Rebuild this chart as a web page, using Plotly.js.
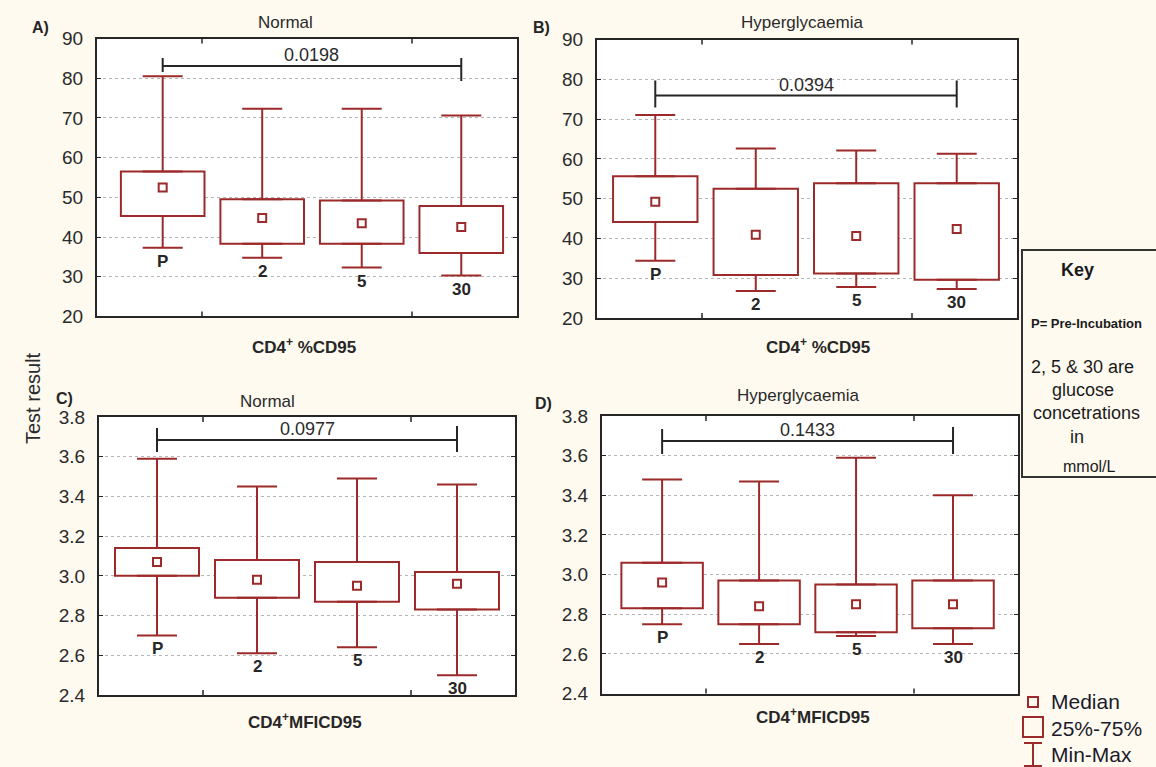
<!DOCTYPE html>
<html><head><meta charset="utf-8">
<script src="https://cdn.plot.ly/plotly-3.0.1.min.js"></script>
<style>html,body{margin:0;padding:0;background:#fffaf0}</style>
</head><body><div id="chart" style="width:1156px;height:767px"></div>
<script>
const categories = ['P', '2', '5', '30'];

// Panel A: Normal, CD4+ %CD95
const aMin    = [37.3, 34.8, 32.3, 30.3];
const aQ1     = [45.3, 38.3, 38.3, 36.0];
const aMedian = [52.5, 44.8, 43.5, 42.5];
const aQ3     = [56.5, 49.5, 49.2, 47.8];
const aMax    = [80.5, 72.3, 72.3, 70.6];

// Panel B: Hyperglycaemia, CD4+ %CD95
const bMin    = [34.4, 26.8, 27.8, 27.3];
const bQ1     = [44.1, 30.8, 31.2, 29.6];
const bMedian = [49.2, 40.9, 40.6, 42.4];
const bQ3     = [55.6, 52.5, 53.9, 53.9];
const bMax    = [71.0, 62.6, 62.1, 61.3];

// Panel C: Normal, CD4+ MFI CD95
const cMin    = [2.70, 2.61, 2.64, 2.50];
const cQ1     = [3.00, 2.89, 2.87, 2.83];
const cMedian = [3.07, 2.98, 2.95, 2.96];
const cQ3     = [3.14, 3.08, 3.07, 3.02];
const cMax    = [3.59, 3.45, 3.49, 3.46];

// Panel D: Hyperglycaemia, CD4+ MFI CD95
const dMin    = [2.75, 2.65, 2.69, 2.65];
const dQ1     = [2.83, 2.75, 2.71, 2.73];
const dMedian = [2.96, 2.84, 2.85, 2.85];
const dQ3     = [3.06, 2.97, 2.95, 2.97];
const dMax    = [3.48, 3.47, 3.59, 3.40];

const pValues = ['0.0198', '0.0394', '0.0977', '0.1433'];
const bracketLevels = [83.1, 75.9, 3.684, 3.674];
const panelTitles = ['Normal', 'Hyperglycaemia', 'Normal', 'Hyperglycaemia'];
const panelLetters = ['A)', 'B)', 'C)', 'D)'];
const xTitles = ['CD4<sup>+</sup> %CD95', 'CD4<sup>+</sup> %CD95', 'CD4<sup>+</sup>MFICD95', 'CD4<sup>+</sup>MFICD95'];

const W = 1156, H = 767;
const X = p => p / W, Y = p => 1 - p / H;
const RED = '#9c2a2a';
const INK = '#262626';

const panels = [
  {d:[aMin,aQ1,aMedian,aQ3,aMax], yr:[20,90], dt:10, xr:[-0.66,3.56], xd:[97,517], yd:[38.6,316.4], tk:[[8,-6],[8,-15]],
   title:[285,23], letter:[40,28], xt:[304,346]},
  {d:[bMin,bQ1,bMedian,bQ3,bMax], yr:[20,90], dt:10, xr:[-0.58,3.60], xd:[597,1017], yd:[39.5,318], tk:[[15,-12],[15,-12]],
   title:[802,23], letter:[541,28], xt:[818,346]},
  {d:[cMin,cQ1,cMedian,cQ3,cMax], yr:[2.4,3.8], dt:0.2, xr:[-0.58,3.58], xd:[99,515], yd:[417,695], tk:[[12,-12],[14,-12]],
   title:[267,402], letter:[64,398], xt:[305,721]},
  {d:[dMin,dQ1,dMedian,dQ3,dMax], yr:[2.4,3.8], dt:0.2, xr:[-0.62,3.67], xd:[602,1018], yd:[416,693.6], tk:[[12,-13],[14,-13]],
   title:[798,395], letter:[543,403], xt:[813,716]}
];

const traces = [];
const layout = {
  width: W, height: H,
  margin: {l:0, r:0, t:0, b:0},
  paper_bgcolor: '#fffaf0',
  plot_bgcolor: '#ffffff',
  showlegend: false,
  bargap: 0.16,
  font: {family: 'Liberation Sans, Arial, sans-serif', color: INK},
  shapes: [],
  annotations: []
};

panels.forEach((p, k) => {
  const n = k === 0 ? '' : String(k + 1);
  const xa = 'x' + n, ya = 'y' + n;
  const [mn, q1, md, q3, mx] = p.d;
  traces.push({
    type: 'bar', x: categories, y: q3.map((v, i) => v - q1[i]), base: q1,
    width: 0.84, xaxis: xa, yaxis: ya, hoverinfo: 'skip',
    marker: {color: '#ffffff', line: {color: RED, width: 2}}
  });
  traces.push({
    type: 'scatter', mode: 'markers', x: categories, y: q3, xaxis: xa, yaxis: ya, hoverinfo: 'skip',
    marker: {color: 'rgba(0,0,0,0)', size: 2},
    error_y: {type: 'data', symmetric: false, array: mx.map((v, i) => v - q3[i]), arrayminus: q3.map(() => 0),
              color: RED, thickness: 2, width: 20}
  });
  traces.push({
    type: 'scatter', mode: 'markers', x: categories, y: q1, xaxis: xa, yaxis: ya, hoverinfo: 'skip',
    marker: {color: 'rgba(0,0,0,0)', size: 2},
    error_y: {type: 'data', symmetric: false, array: q1.map(() => 0), arrayminus: q1.map((v, i) => v - mn[i]),
              color: RED, thickness: 2, width: 20}
  });
  traces.push({
    type: 'scatter', mode: 'markers', x: categories, y: md, xaxis: xa, yaxis: ya, hoverinfo: 'skip',
    marker: {symbol: 'square-open', size: 8, color: RED, line: {color: RED, width: 2}}
  });

  layout['xaxis' + n] = {
    type: 'category', range: p.xr, domain: [X(p.xd[0]), X(p.xd[1])], anchor: ya,
    showticklabels: false, ticks: '', showgrid: false, zeroline: false,
    showline: true, mirror: true, linecolor: INK, linewidth: 2, fixedrange: true
  };
  layout['yaxis' + n] = {
    range: p.yr, dtick: p.dt, tick0: p.yr[0], domain: [Y(p.yd[1]), Y(p.yd[0])], anchor: xa,
    showgrid: true, gridcolor: '#b5b5b5', griddash: 'dot', gridwidth: 1, zeroline: false,
    showline: true, mirror: 'ticks', linecolor: INK, linewidth: 2,
    ticks: 'inside', ticklen: 4, tickcolor: INK, tickwidth: 1,
    tickformat: p.dt < 1 ? '.1f' : 'd', ticklabelstandoff: 8,
    tickfont: {size: 19, color: '#2a2a2a'}, fixedrange: true
  };

  // x-axis inner tick marks on the frame
  [0.25, 0.75].forEach(f => {
    layout.shapes.push({type:'line', xref: xa + ' domain', yref: ya + ' domain', x0:f, x1:f, y0:0, y1:0.018, line:{color:INK, width:1.5}});
    layout.shapes.push({type:'line', xref: xa + ' domain', yref: ya + ' domain', x0:f, x1:f, y0:1, y1:0.982, line:{color:INK, width:1.5}});
  });

  // significance bracket
  const bl = bracketLevels[k];
  layout.shapes.push({type:'line', xref: xa, yref: ya, x0:0, x1:3, y0:bl, y1:bl, line:{color:INK, width:2}});
  [0, 3].forEach((xi, j) => {
    layout.shapes.push({type:'line', xref: xa, yref: ya, x0:xi, x1:xi, ysizemode:'pixel', yanchor: bl,
      y0: p.tk[j][1], y1: p.tk[j][0], line:{color:INK, width:2}});
  });
  layout.annotations.push({xref: xa, yref: ya, x: 1.5, y: bl, yanchor: 'middle', yshift: 11,
    text: pValues[k], showarrow: false, font: {size: 18, color: '#2a2a2a'}});

  // category labels under the minimum caps
  categories.forEach((c, i) => {
    layout.annotations.push({xref: xa, yref: ya, x: i, y: mn[i], yanchor: 'top', yshift: -2,
      text: '<b>' + c + '</b>', showarrow: false, font: {size: 17, color: INK}});
  });

  // panel title, letter, x title
  layout.annotations.push({xref:'paper', yref:'paper', x: X(p.title[0]), y: Y(p.title[1]), xanchor:'center', yanchor:'middle',
    text: panelTitles[k], showarrow:false, font:{size:17, color:'#2a2a2a'}});
  layout.annotations.push({xref:'paper', yref:'paper', x: X(p.letter[0]), y: Y(p.letter[1]), xanchor:'center', yanchor:'middle',
    text: '<b>' + panelLetters[k] + '</b>', showarrow:false, font:{size:16, color:INK}});
  layout.annotations.push({xref:'paper', yref:'paper', x: X(p.xt[0]), y: Y(p.xt[1]), xanchor:'center', yanchor:'middle',
    text: '<b>' + xTitles[k] + '</b>', showarrow:false, font:{size:17, color:INK}});
});

// shared y title
layout.annotations.push({xref:'paper', yref:'paper', x: X(33), y: Y(398), xanchor:'center', yanchor:'middle',
  text: 'Test result', textangle: -90, showarrow:false, font:{size:20, color:'#2a2a2a'}});

// Key box
layout.shapes.push({type:'rect', xref:'paper', yref:'paper', x0: X(1022), x1: X(1162), y0: Y(477), y1: Y(250),
  line:{color:'#333333', width:2}, fillcolor:'#fffaf0', layer:'below'});
const keyLines = [
  ['<b>Key</b>', 1077, 270, 18],
  ['<b>P= Pre-Incubation</b>', 1086, 323, 13],
  ['2, 5 & 30 are', 1082, 367, 18],
  ['glucose', 1083, 390, 18],
  ['concetrations', 1086, 413, 18],
  ['in', 1077, 437, 18],
  ['mmol/L', 1089, 466, 16]
];
keyLines.forEach(([t, x, y, s]) => {
  layout.annotations.push({xref:'paper', yref:'paper', x: X(x), y: Y(y), xanchor:'center', yanchor:'middle',
    text: t, showarrow:false, font:{size:s, color:'#1a1a1a'}});
});

// Statistic legend (bottom right)
layout.shapes.push({type:'rect', xref:'paper', yref:'paper', x0: X(1028), x1: X(1038), y0: Y(707), y1: Y(697), line:{color:RED, width:2}, fillcolor:'rgba(0,0,0,0)'});
layout.shapes.push({type:'rect', xref:'paper', yref:'paper', x0: X(1023), x1: X(1043), y0: Y(737), y1: Y(717), line:{color:RED, width:2}, fillcolor:'rgba(0,0,0,0)'});
layout.shapes.push({type:'line', xref:'paper', yref:'paper', x0: X(1033), x1: X(1033), y0: Y(766), y1: Y(743), line:{color:RED, width:2}});
layout.shapes.push({type:'line', xref:'paper', yref:'paper', x0: X(1024), x1: X(1042), y0: Y(743), y1: Y(743), line:{color:RED, width:2}});
layout.shapes.push({type:'line', xref:'paper', yref:'paper', x0: X(1024), x1: X(1042), y0: Y(766), y1: Y(766), line:{color:RED, width:2}});
[['Median', 701], ['25%-75%', 728], ['Min-Max', 754]].forEach(([t, y]) => {
  layout.annotations.push({xref:'paper', yref:'paper', x: X(1049), y: Y(y), xanchor:'left', yanchor:'middle',
    text: t, showarrow:false, font:{size:21, color:'#1a1a2a'}});
});

Plotly.newPlot('chart', traces, layout, {staticPlot: true});
</script>
</body></html>
